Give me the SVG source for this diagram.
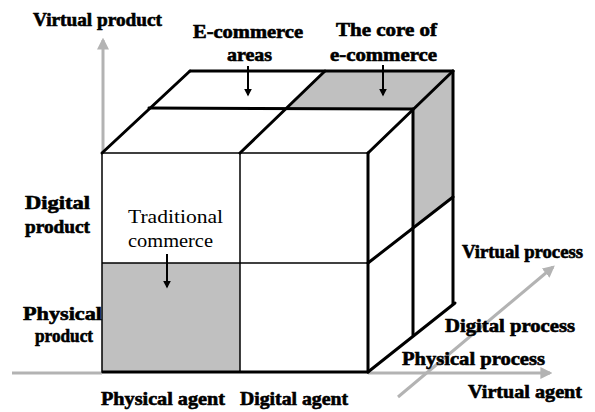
<svg xmlns="http://www.w3.org/2000/svg" width="595" height="412" viewBox="0 0 595 412">
  <style>
    .lbl { font-family: "Liberation Serif", "Times New Roman", serif; font-weight: bold; font-size: 18px; fill: #000; stroke: #000; stroke-width: 0.6; }
    .reg { font-family: "Liberation Serif", "Times New Roman", serif; font-size: 19px; fill: #000; }
    .thin { stroke: #000; stroke-width: 1.5; fill: none; }
    .thick { stroke: #000; stroke-width: 3; fill: none; stroke-linecap: round; }
    .shade { fill: #c0c0c0; stroke: none; }
    .axis { stroke: #b3b3b3; stroke-width: 3; fill: none; }
    .pointer { stroke: #000; stroke-width: 2; fill: none; }
  </style>
  <defs>
    <marker id="greyHead" viewBox="0 0 10 10" refX="8" refY="5" markerWidth="4" markerHeight="4" orient="auto">
      <path d="M0,0 L10,5 L0,10 z" fill="#b3b3b3"/>
    </marker>
    <marker id="blackHead" viewBox="0 0 10 10" refX="8" refY="5" markerWidth="4" markerHeight="4" orient="auto">
      <path d="M0,0 L10,5 L0,10 z" fill="#000"/>
    </marker>
  </defs>

  <!-- shaded cells -->
  <g id="shading">
    <rect class="shade" x="102" y="263" width="138" height="109"/>
    <polygon class="shade" points="325,71 453,71 413,109 287,108"/>
    <polygon class="shade" points="413,109 453,71 453,197 413,228"/>
  </g>

  <!-- coordinate axes -->
  <g id="axes">
    <line class="axis" x1="103" y1="152" x2="103" y2="40" marker-end="url(#greyHead)"/>
    <line class="axis" x1="12" y1="373" x2="102" y2="373" stroke-width="2.5"/>
    <line class="axis" x1="368" y1="373" x2="550" y2="373" stroke-width="2.5" marker-end="url(#greyHead)"/>
    <line class="axis" x1="398" y1="397" x2="553" y2="267" marker-end="url(#greyHead)"/>
  </g>

  <!-- front face: 2x2 grid -->
  <g id="front-face">
    <rect class="thin" x="102" y="153" width="266" height="219"/>
    <line class="thin" x1="240" y1="153" x2="240" y2="372"/>
    <line class="thin" x1="102" y1="263" x2="368" y2="263"/>
    <line x1="102" y1="372" x2="368" y2="372" stroke="#000" stroke-width="3"/>
  </g>

  <!-- top face -->
  <g id="top-face">
    <line class="thick" x1="102" y1="153" x2="190" y2="71"/>
    <line class="thick" x1="240" y1="153" x2="325" y2="71"/>
    <line class="thick" x1="368" y1="153" x2="453" y2="71"/>
    <line class="thick" x1="190" y1="71" x2="453" y2="71" stroke-width="2.5"/>
    <line class="thick" x1="149" y1="108" x2="413" y2="109" stroke-width="2.5"/>
  </g>

  <!-- right face -->
  <g id="right-face">
    <line class="thick" x1="368" y1="153" x2="368" y2="372"/>
    <line class="thick" x1="413" y1="109" x2="413" y2="335"/>
    <line class="thick" x1="453" y1="71" x2="453" y2="304"/>
    <line class="thick" x1="368" y1="263" x2="453" y2="197"/>
    <line class="thick" x1="368" y1="372" x2="455" y2="303"/>
  </g>

  <!-- pointers -->
  <g id="connectors">
    <line class="pointer" x1="248" y1="66" x2="248" y2="95" marker-end="url(#blackHead)"/>
    <line class="pointer" x1="383" y1="65" x2="383" y2="95" marker-end="url(#blackHead)"/>
    <line class="pointer" x1="167" y1="254" x2="167" y2="287" stroke-width="1.5" marker-end="url(#blackHead)"/>
  </g>

  <!-- labels -->
  <g id="label-virtual-product"><text class="lbl" x="33" y="26" textLength="129" lengthAdjust="spacingAndGlyphs">Virtual product</text></g>
  <g id="label-ecommerce-areas">
    <text class="lbl" x="193" y="38" textLength="110" lengthAdjust="spacingAndGlyphs">E-commerce</text>
    <text class="lbl" x="227" y="61" textLength="45" lengthAdjust="spacingAndGlyphs">areas</text>
  </g>
  <g id="label-core">
    <text class="lbl" x="336" y="36" textLength="101" lengthAdjust="spacingAndGlyphs">The core of</text>
    <text class="lbl" x="330" y="61" textLength="107" lengthAdjust="spacingAndGlyphs">e-commerce</text>
  </g>
  <g id="label-digital-product">
    <text class="lbl" x="25" y="209" textLength="65" lengthAdjust="spacingAndGlyphs">Digital</text>
    <text class="lbl" x="25" y="233" textLength="65" lengthAdjust="spacingAndGlyphs">product</text>
  </g>
  <g id="label-traditional">
    <text class="reg" x="128" y="223" textLength="95" lengthAdjust="spacingAndGlyphs">Traditional</text>
    <text class="reg" x="128" y="247" textLength="85" lengthAdjust="spacingAndGlyphs">commerce</text>
  </g>
  <g id="label-physical-product">
    <text class="lbl" x="23" y="320" textLength="79" lengthAdjust="spacingAndGlyphs">Physical</text>
    <text class="lbl" x="35" y="342" textLength="58" lengthAdjust="spacingAndGlyphs">product</text>
  </g>
  <g id="label-physical-agent"><text class="lbl" x="101" y="405" textLength="124" lengthAdjust="spacingAndGlyphs">Physical agent</text></g>
  <g id="label-digital-agent"><text class="lbl" x="240" y="405" textLength="108" lengthAdjust="spacingAndGlyphs">Digital agent</text></g>
  <g id="label-virtual-process"><text class="lbl" x="462" y="258" textLength="121" lengthAdjust="spacingAndGlyphs">Virtual process</text></g>
  <g id="label-digital-process"><text class="lbl" x="445" y="332" textLength="130" lengthAdjust="spacingAndGlyphs">Digital process</text></g>
  <g id="label-physical-process"><text class="lbl" x="402" y="365" textLength="143" lengthAdjust="spacingAndGlyphs">Physical process</text></g>
  <g id="label-virtual-agent"><text class="lbl" x="468" y="398" textLength="114" lengthAdjust="spacingAndGlyphs">Virtual agent</text></g>
</svg>
